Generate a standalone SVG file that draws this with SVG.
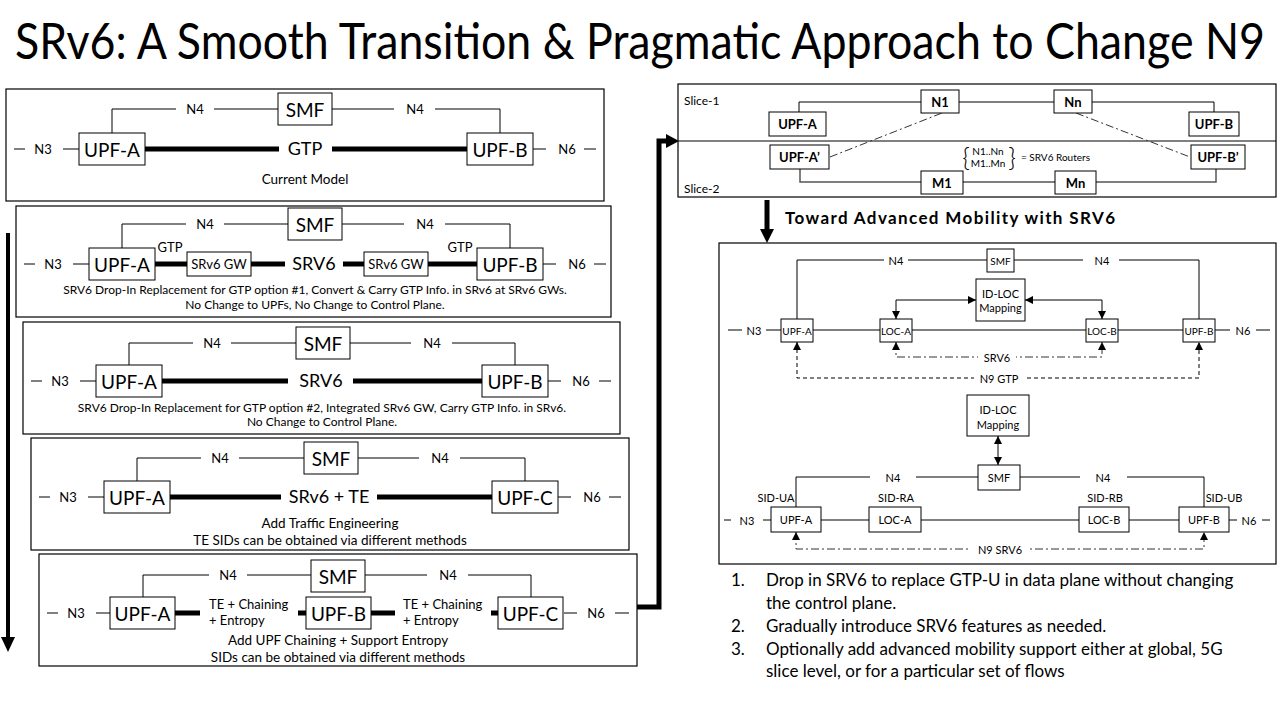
<svg xmlns="http://www.w3.org/2000/svg" width="1280" height="720" viewBox="0 0 1280 720">
  <defs>
    <style>
      text { font-family: Lato, "Liberation Sans", sans-serif; fill: #000; text-anchor: middle; dominant-baseline: central; }
      .box { fill: #fff; stroke: #000; stroke-width: 1; }
      .frame { fill: #fff; stroke: #000; stroke-width: 1.2; }
      .ln { fill: none; stroke: #000; stroke-width: 1; }
      .thick { fill: none; stroke: #000; stroke-width: 5; }
      .big { fill: none; stroke: #000; stroke-width: 5; }
      .dd { fill: none; stroke: #333; stroke-width: 1; stroke-dasharray: 8 3 2 3; }
      .dash { fill: none; stroke: #000; stroke-width: 1; stroke-dasharray: 4 3; }
      .node { font-size: 19px; }
      .mid { font-size: 18px; }
      .lbl { font-size: 13px; }
      .cap { font-size: 12px; }
      .cap2 { font-size: 13.5px; }
      .sb { font-size: 13px; font-weight: bold; }
      .sm { font-size: 11px; }
      .xs { font-size: 10px; }
      .list { font-size: 17px; text-anchor: start; }
    </style>
    <marker id="ah" viewBox="0 0 10 10" refX="10" refY="5" markerWidth="8" markerHeight="8" markerUnits="userSpaceOnUse" orient="auto-start-reverse">
      <path d="M0,0 L10,5 L0,10 z" fill="#000"/>
    </marker>
  </defs>

  <rect width="1280" height="720" fill="#fff"/>

  <!-- Title -->
  <text id="title" transform="translate(640,40) scale(1,1.15)" x="0" y="0" style="font-size:43px" textLength="1250" lengthAdjust="spacingAndGlyphs">SRv6: A Smooth Transition &amp; Pragmatic Approach to Change N9</text>

  <!-- Flow arrows between stages -->
  <g id="flow-arrows">
    <line class="big" x1="8" y1="233" x2="8" y2="638" style="stroke-width:4"/>
    <polygon points="1,637 15,637 8,652" fill="#000"/>
    <path class="big" d="M637,607 H659 V141 H668"/>
    <polygon points="666,134 666,148 679,141" fill="#000"/>
    <line class="big" x1="767" y1="200" x2="767" y2="231"/>
    <polygon points="760,229 774,229 767,243" fill="#000"/>
  </g>

  <!-- Stage 1: current model -->
  <g id="stage1" transform="translate(6,89)">
    <rect class="frame" x="0" y="0" width="598" height="112"/>
    <g id="s1-links">
      <path class="ln" d="M106,44 V20 H170 M208,20 H272 M326,20 H388 M429,20 H494 V44"/>
      <path class="ln" d="M8,60 H19 M57,60 H73 M527,60 H540 M578,60 H590"/>
      <path class="thick" d="M139,60 H273 M326,60 H461"/>
      <text class="lbl" x="189" y="20">N4</text>
      <text class="lbl" x="409" y="20">N4</text>
      <text class="lbl" x="37" y="60">N3</text>
      <text class="lbl" x="561" y="60">N6</text>
      <text class="mid" x="299" y="59">GTP</text>
    </g>
    <g id="s1-smf"><rect class="box" x="272" y="4" width="54" height="32"/><text class="node" x="299" y="20">SMF</text></g>
    <g id="s1-upfa"><rect class="box" x="73" y="44" width="66" height="32"/><text class="node" x="106" y="60">UPF-A</text></g>
    <g id="s1-upfb"><rect class="box" x="461" y="44" width="66" height="32"/><text class="node" x="494" y="60">UPF-B</text></g>
    <text class="cap2" x="299" y="90">Current Model</text>
  </g>

  <!-- Stage 2: SRv6 gateways -->
  <g id="stage2" transform="translate(16,206)">
    <rect class="frame" x="0" y="0" width="595" height="111"/>
    <g id="s2-links">
      <path class="ln" d="M106,42 V18 H170 M208,18 H272 M326,18 H388 M429,18 H494 V42"/>
      <path class="ln" d="M8,58 H19 M57,58 H73 M527,58 H540 M578,58 H590"/>
      <path class="thick" d="M139,58 H171 M235,58 H269 M327,58 H348 M412,58 H461"/>
      <text class="lbl" x="189" y="18">N4</text>
      <text class="lbl" x="409" y="18">N4</text>
      <text class="lbl" x="37" y="58">N3</text>
      <text class="lbl" x="561" y="58">N6</text>
      <text class="lbl" x="154" y="41">GTP</text>
      <text class="lbl" x="444" y="41">GTP</text>
      <text class="mid" x="298" y="57">SRV6</text>
    </g>
    <g id="s2-smf"><rect class="box" x="272" y="2" width="54" height="32"/><text class="node" x="299" y="18">SMF</text></g>
    <g id="s2-upfa"><rect class="box" x="73" y="42" width="66" height="32"/><text class="node" x="106" y="58">UPF-A</text></g>
    <g id="s2-gw1"><rect class="box" x="171" y="46" width="64" height="24"/><text class="lbl" x="203" y="58">SRv6 GW</text></g>
    <g id="s2-gw2"><rect class="box" x="348" y="46" width="64" height="24"/><text class="lbl" x="380" y="58">SRv6 GW</text></g>
    <g id="s2-upfb"><rect class="box" x="461" y="42" width="66" height="32"/><text class="node" x="494" y="58">UPF-B</text></g>
    <text class="cap" x="299" y="83">SRV6 Drop-In Replacement for GTP option #1, Convert &amp; Carry GTP Info. in SRv6 at SRv6 GWs.</text>
    <text class="cap" x="299" y="98">No Change to UPFs, No Change to Control Plane.</text>
  </g>

  <!-- Stage 3: integrated gateway -->
  <g id="stage3" transform="translate(23,322)">
    <rect class="frame" x="0" y="0" width="597" height="112"/>
    <g id="s3-links">
      <path class="ln" d="M106,43 V21 H170 M208,21 H273 M327,21 H388 M429,21 H492 V43"/>
      <path class="ln" d="M8,59 H19 M57,59 H73 M525,59 H538 M576,59 H588"/>
      <path class="thick" d="M139,59 H265 M330,59 H459"/>
      <text class="lbl" x="189" y="21">N4</text>
      <text class="lbl" x="409" y="21">N4</text>
      <text class="lbl" x="37" y="59">N3</text>
      <text class="lbl" x="558" y="59">N6</text>
      <text class="mid" x="298" y="58">SRV6</text>
    </g>
    <g id="s3-smf"><rect class="box" x="273" y="5" width="54" height="32"/><text class="node" x="300" y="21">SMF</text></g>
    <g id="s3-upfa"><rect class="box" x="73" y="43" width="66" height="32"/><text class="node" x="106" y="59">UPF-A</text></g>
    <g id="s3-upfb"><rect class="box" x="459" y="43" width="66" height="32"/><text class="node" x="492" y="59">UPF-B</text></g>
    <text class="cap" x="299" y="85">SRV6 Drop-In Replacement for GTP option #2, Integrated SRv6 GW, Carry GTP Info. in SRv6.</text>
    <text class="cap" x="299" y="99">No Change to Control Plane.</text>
  </g>

  <!-- Stage 4: traffic engineering -->
  <g id="stage4" transform="translate(31,438)">
    <rect class="frame" x="0" y="0" width="598" height="112"/>
    <g id="s4-links">
      <path class="ln" d="M106,43 V20 H170 M208,20 H273 M327,20 H388 M429,20 H494 V43"/>
      <path class="ln" d="M8,59 H19 M57,59 H73 M527,59 H540 M578,59 H590"/>
      <path class="thick" d="M139,59 H250 M346,59 H461"/>
      <text class="lbl" x="189" y="20">N4</text>
      <text class="lbl" x="409" y="20">N4</text>
      <text class="lbl" x="37" y="59">N3</text>
      <text class="lbl" x="561" y="59">N6</text>
      <text class="mid" x="298" y="58">SRv6 + TE</text>
    </g>
    <g id="s4-smf"><rect class="box" x="273" y="4" width="54" height="32"/><text class="node" x="300" y="20">SMF</text></g>
    <g id="s4-upfa"><rect class="box" x="73" y="43" width="66" height="32"/><text class="node" x="106" y="59">UPF-A</text></g>
    <g id="s4-upfc"><rect class="box" x="461" y="43" width="66" height="32"/><text class="node" x="494" y="59">UPF-C</text></g>
    <text class="cap2" x="299" y="85">Add Traffic Engineering</text>
    <text class="cap2" x="299" y="102">TE SIDs can be obtained via different methods</text>
  </g>

  <!-- Stage 5: UPF chaining and entropy -->
  <g id="stage5" transform="translate(39,554)">
    <rect class="frame" x="0" y="0" width="598" height="112"/>
    <g id="s5-links">
      <path class="ln" d="M104,43 V21 H170 M208,21 H272 M326,21 H388 M429,21 H492 V43"/>
      <path class="ln" d="M8,59 H19 M57,59 H71 M525,59 H538 M576,59 H590"/>
      <path class="thick" d="M136,59 H161 M259,59 H267 M332,59 H356 M452,59 H459"/>
      <text class="lbl" x="189" y="21">N4</text>
      <text class="lbl" x="409" y="21">N4</text>
      <text class="lbl" x="37" y="59">N3</text>
      <text class="lbl" x="557" y="59">N6</text>
      <text class="lbl" x="170" y="50" style="text-anchor:start">TE + Chaining</text>
      <text class="lbl" x="170" y="66" style="text-anchor:start">+ Entropy</text>
      <text class="lbl" x="364" y="50" style="text-anchor:start">TE + Chaining</text>
      <text class="lbl" x="364" y="66" style="text-anchor:start">+ Entropy</text>
    </g>
    <g id="s5-smf"><rect class="box" x="272" y="6" width="54" height="32"/><text class="node" x="299" y="22">SMF</text></g>
    <g id="s5-upfa"><rect class="box" x="71" y="43" width="65" height="32"/><text class="node" x="103.5" y="59">UPF-A</text></g>
    <g id="s5-upfb"><rect class="box" x="267" y="43" width="65" height="32"/><text class="node" x="299.5" y="59">UPF-B</text></g>
    <g id="s5-upfc"><rect class="box" x="459" y="43" width="65" height="32"/><text class="node" x="491.5" y="59">UPF-C</text></g>
    <text class="cap2" x="299" y="86">Add UPF Chaining + Support Entropy</text>
    <text class="cap2" x="299" y="103">SIDs can be obtained via different methods</text>
  </g>

  <!-- Network slices -->
  <g id="slices">
    <rect class="frame" x="678" y="84" width="598" height="113"/>
    <line class="ln" x1="678" y1="141" x2="1276" y2="141"/>
    <text x="684" y="100" style="text-anchor:start;font-size:12px">Slice-1</text>
    <text x="684" y="188" style="text-anchor:start;font-size:12px">Slice-2</text>
    <g id="slice-links">
      <path class="ln" d="M799,112 V102 H921 M959,102 H1054 M1092,102 H1214 V112"/>
      <path class="ln" d="M800,168 V182 H921 M963,182 H1055 M1096,182 H1216 V168" style="stroke:#555;stroke-width:1.5"/>
      <path class="dd" d="M830,157 L942,113 M1076,113 L1190,157"/>
    </g>
    <g id="sl-upfa"><rect class="box" x="769" y="112" width="57" height="24"/><text class="sb" x="797.5" y="124">UPF-A</text></g>
    <g id="sl-n1"><rect class="box" x="921" y="90" width="38" height="23"/><text class="sb" x="940" y="101.5">N1</text></g>
    <g id="sl-nn"><rect class="box" x="1054" y="90" width="38" height="23"/><text class="sb" x="1073" y="101.5">Nn</text></g>
    <g id="sl-upfb"><rect class="box" x="1189" y="112" width="50" height="24"/><text class="sb" x="1214" y="124">UPF-B</text></g>
    <g id="sl-upfa2"><rect class="box" x="770" y="145" width="59" height="24"/><text class="sb" x="799.5" y="157">UPF-A’</text></g>
    <g id="sl-upfb2"><rect class="box" x="1191" y="145" width="54" height="24"/><text class="sb" x="1218" y="157">UPF-B’</text></g>
    <g id="sl-m1"><rect class="box" x="921" y="171" width="42" height="23"/><text class="sb" x="942" y="182.5">M1</text></g>
    <g id="sl-mn"><rect class="box" x="1055" y="171" width="41" height="23"/><text class="sb" x="1075.5" y="182.5">Mn</text></g>
    <g id="sl-routers">
      <text x="966" y="157" style="font-size:26px;font-weight:300">{</text>
      <text class="xs" x="988" y="151">N1..Nn</text>
      <text class="xs" x="988" y="163">M1..Mn</text>
      <text x="1012" y="157" style="font-size:26px;font-weight:300">}</text>
      <text class="xs" x="1021" y="157" style="text-anchor:start">= SRV6 Routers</text>
    </g>
  </g>

  <text id="toward" x="785" y="217" style="text-anchor:start;font-size:17px;font-weight:bold" textLength="330" lengthAdjust="spacing">Toward Advanced Mobility with SRV6</text>

  <!-- Advanced mobility panel -->
  <g id="mobility">
    <rect class="frame" x="719" y="243" width="557" height="321"/>

    <!-- ID-LOC via locators -->
    <g id="m1-links">
      <path class="ln" d="M797,319 V260 H884 M908,260 H987 M1014,260 H1083 M1119,260 H1199 V319"/>
      <text class="sm" x="896" y="260">N4</text>
      <text class="sm" x="1102" y="260">N4</text>
      <path class="ln" d="M728,330 H742 M766,330 H781 M813,330 H880 M912,330 H1086 M1118,330 H1183 M1215,330 H1230 M1256,330 H1270"/>
      <text class="sm" x="754" y="330">N3</text>
      <text class="sm" x="1243" y="330">N6</text>
      <path class="ln" d="M896,319 V300 H976" marker-start="url(#ah)" marker-end="url(#ah)"/>
      <path class="ln" d="M1025,300 H1102 V319" marker-start="url(#ah)" marker-end="url(#ah)"/>
      <path class="dd" d="M896,342 V357 H1102 V342" marker-start="url(#ah)" marker-end="url(#ah)"/>
      <rect x="978" y="350" width="38" height="14" fill="#fff"/>
      <text class="sm" x="997" y="357">SRV6</text>
      <path class="dash" d="M797,342 V378 H1199 V342" marker-start="url(#ah)" marker-end="url(#ah)"/>
      <rect x="974" y="371" width="50" height="14" fill="#fff"/>
      <text class="sm" x="999" y="378">N9 GTP</text>
    </g>
    <g id="m1-smf"><rect class="box" x="987" y="249" width="27" height="23"/><text class="xs" x="1000.5" y="260.5">SMF</text></g>
    <g id="m1-idloc"><rect class="box" x="976" y="279" width="49" height="42"/><text class="sm" x="1000.5" y="293">ID-LOC</text><text class="sm" x="1000.5" y="307">Mapping</text></g>
    <g id="m1-upfa"><rect class="box" x="781" y="319" width="32" height="23"/><text class="xs" x="797" y="330.5">UPF-A</text></g>
    <g id="m1-loca"><rect class="box" x="880" y="319" width="32" height="23"/><text class="xs" x="896" y="330.5">LOC-A</text></g>
    <g id="m1-locb"><rect class="box" x="1086" y="319" width="32" height="23"/><text class="xs" x="1102" y="330.5">LOC-B</text></g>
    <g id="m1-upfb"><rect class="box" x="1183" y="319" width="32" height="23"/><text class="xs" x="1199" y="330.5">UPF-B</text></g>

    <!-- ID-LOC via SMF and SRv6 SIDs -->
    <g id="m2-links">
      <path class="ln" d="M998,436 V465" marker-start="url(#ah)" marker-end="url(#ah)"/>
      <path class="ln" d="M796,507 V477 H870 M916,477 H978 M1020,477 H1080 M1127,477 H1204 V507"/>
      <text class="sm" x="893" y="477">N4</text>
      <text class="sm" x="1103" y="477">N4</text>
      <path class="ln" d="M724,520 H731 M763,520 H771 M821,520 H869 M921,520 H1079 M1129,520 H1179 M1229,520 H1237 M1262,520 H1270"/>
      <text class="sm" x="747" y="520">N3</text>
      <text class="sm" x="1249" y="520">N6</text>
      <text class="sm" x="776" y="497">SID-UA</text>
      <text class="sm" x="896" y="497">SID-RA</text>
      <text class="sm" x="1105" y="497">SID-RB</text>
      <text class="sm" x="1224" y="497">SID-UB</text>
      <path class="dd" d="M796,532 V549 H1204 V532" marker-start="url(#ah)" marker-end="url(#ah)"/>
      <rect x="970" y="542" width="60" height="14" fill="#fff"/>
      <text class="sm" x="1000" y="549">N9 SRV6</text>
    </g>
    <g id="m2-idloc"><rect class="box" x="967" y="395" width="62" height="41"/><text class="sm" x="998" y="409">ID-LOC</text><text class="sm" x="998" y="424">Mapping</text></g>
    <g id="m2-smf"><rect class="box" x="978" y="465" width="42" height="25"/><text class="sm" x="999" y="477.5">SMF</text></g>
    <g id="m2-upfa"><rect class="box" x="771" y="507" width="50" height="25"/><text class="sm" x="796" y="519.5">UPF-A</text></g>
    <g id="m2-loca"><rect class="box" x="869" y="507" width="52" height="25"/><text class="sm" x="895" y="519.5">LOC-A</text></g>
    <g id="m2-locb"><rect class="box" x="1079" y="507" width="50" height="25"/><text class="sm" x="1104" y="519.5">LOC-B</text></g>
    <g id="m2-upfb"><rect class="box" x="1179" y="507" width="50" height="25"/><text class="sm" x="1204" y="519.5">UPF-B</text></g>
  </g>

  <!-- Summary list -->
  <g id="summary">
    <text class="list" x="731" y="579">1.</text>
    <text class="list" x="766" y="579">Drop in SRV6 to replace GTP-U in data plane without changing</text>
    <text class="list" x="766" y="602">the control plane.</text>
    <text class="list" x="731" y="625">2.</text>
    <text class="list" x="766" y="625">Gradually introduce SRV6 features as needed.</text>
    <text class="list" x="731" y="648">3.</text>
    <text class="list" x="766" y="648">Optionally add advanced mobility support either at global, 5G</text>
    <text class="list" x="766" y="670">slice level, or for a particular set of flows</text>
  </g>
</svg>
